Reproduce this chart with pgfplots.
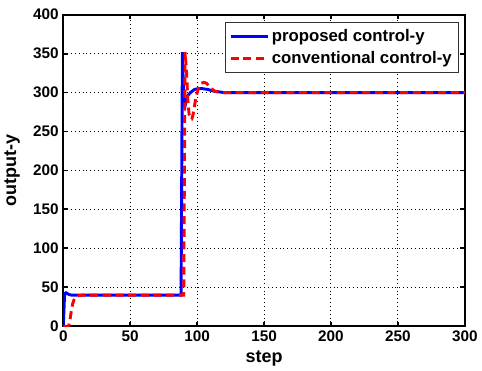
\documentclass[border=0pt]{standalone}
\usepackage{pgfplots}
\pgfplotsset{compat=1.18}
\usepackage{fontspec}
\setmainfont{Liberation Sans}
\begin{document}
\begin{tikzpicture}
\begin{axis}[
  scale only axis,
  width=301.5pt, height=234pt,
  xmin=0, xmax=300, ymin=0, ymax=400,
  xtick={0,50,100,150,200,250,300}, ytick={0,50,100,150,200,250,300,350,400},
  xticklabels={\textbf{0},\textbf{50},\textbf{100},\textbf{150},\textbf{200},\textbf{250},\textbf{300}},
  yticklabels={\textbf{0},\textbf{50},\textbf{100},\textbf{150},\textbf{200},\textbf{250},\textbf{300},\textbf{350},\textbf{400}},
  grid=major,
  major grid style={black, line width=0.7pt, dash pattern=on 0.7pt off 2.2pt},
  axis line style={line width=1.6pt},
  tick style={black, line width=1.4pt},
  tick align=inside,
  major tick length=3.5pt,
  ticklabel style={font=\bfseries\fontsize{11.5}{13}\selectfont},
  xlabel={\bfseries step}, ylabel={\bfseries output-y},
  label style={font=\bfseries\fontsize{13.5}{15}\selectfont},
  xlabel style={yshift=0pt},
  ylabel style={yshift=3pt},
  legend style={at={(0.985,0.975)}, anchor=north east, draw=black!80, line width=0.6pt,
    font=\bfseries\fontsize{12.6}{14}\selectfont, row sep=2pt, inner sep=3pt},
  legend cell align=left,
  legend image code/.code={\draw[#1] (0cm,0cm) -- (0.98cm,0cm);},
]
\addplot[blue, line width=2.2pt] coordinates {
(0,0)(1,42)(2,43)(3,42)(4,41)(5,40.5)(6,40)(88,40)(89,352)(90,290)(91,283)(92,290)(93,296)(95,300)(98,304)(101,305)(104,305)(108,304)(112,302)(116,301)(120,300)(300,300)};
\addlegendentry{proposed control-y}
\addplot[red, line width=2.2pt, dash pattern=on 6pt off 3.5pt] coordinates {
(0,0)(4,0)(5,8)(6,20)(7,29)(8,34)(9,37)(10,38.5)(12,39.5)(14,40)(90,40)(91,352)(92,330)(93,292)(94,272)(95,266)(96,266)(97,272)(98,282)(99,293)(101,306)(103,312)(105,313)(107,312)(110,306)(113,302)(117,300)(300,300)};
\addlegendentry{conventional control-y}
\end{axis}
\path ([yshift=11pt]current axis.north);
\end{tikzpicture}
\end{document}
